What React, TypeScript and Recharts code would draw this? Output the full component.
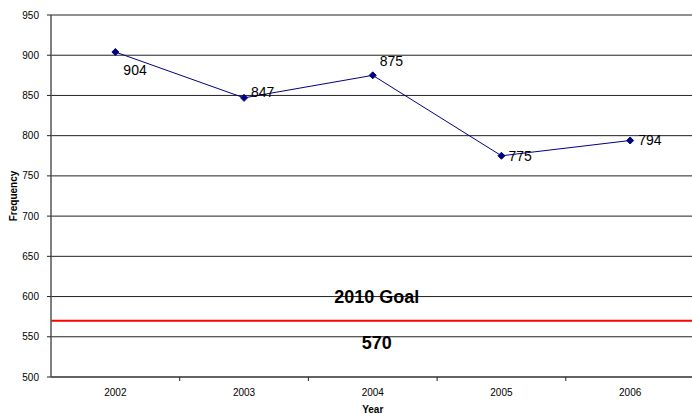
import React from 'react'
import {
  LineChart,
  Line,
  XAxis,
  YAxis,
  CartesianGrid,
  ReferenceLine,
  LabelList,
} from 'recharts'

const years = ['2002', '2003', '2004', '2005', '2006']
const frequency = [904, 847, 875, 775, 794]
const yTicks = [500, 550, 600, 650, 700, 750, 800, 850, 900, 950]
const goalValue = 570
const goalTitle = '2010 Goal'

const data = years.map((year, i) => ({ year, frequency: frequency[i] }))

// where each value label sits relative to its point
const LABEL_SHIFT = [
  [8, 18],
  [7, -6],
  [7, -14],
  [7, 0],
  [8, 0],
]

const FONT = 'Arial, "Liberation Sans", sans-serif'
const HALF_BAND = 64.35

const Diamond = (props: any) => {
  const { cx, cy } = props
  if (cx == null || cy == null) return null
  const r = 3.5
  return (
    <polygon
      points={`${cx},${cy - r} ${cx + r},${cy} ${cx},${cy + r} ${cx - r},${cy}`}
      fill="#000080"
      stroke="#000080"
    />
  )
}

const ValueLabel = (props: any) => {
  const { x, y, value, index } = props
  const [dx, dy] = LABEL_SHIFT[index] || [7, 0]
  return (
    <text
      x={x + dx}
      y={y + dy}
      fontSize={14}
      fontFamily={FONT}
      fill="#000"
      textAnchor="start"
      dominantBaseline="central"
    >
      {value}
    </text>
  )
}

// year label plus the small tick mark on the boundary to its right
const YearTick = (props: any) => {
  const { x, y, payload, index } = props
  return (
    <g>
      {index < years.length - 1 && (
        <line x1={x + HALF_BAND} x2={x + HALF_BAND} y1={y} y2={y + 4} stroke="#222" />
      )}
      <text
        x={x}
        y={y + 15}
        textAnchor="middle"
        dominantBaseline="central"
        fontSize={10}
        fontFamily={FONT}
        fill="#000"
      >
        {payload.value}
      </text>
    </g>
  )
}

const GoalLabel = (props: any) => {
  const { viewBox } = props
  if (!viewBox) return null
  const cx = viewBox.x + viewBox.width / 2 + 4
  return (
    <g fontFamily={FONT} fontSize={18} fontWeight="bold" fill="#000" textAnchor="middle">
      <text x={cx} y={viewBox.y - 24} dominantBaseline="central">
        {goalTitle}
      </text>
      <text x={cx} y={viewBox.y + 22} dominantBaseline="central">
        {goalValue}
      </text>
    </g>
  )
}

const YTitle = (props: any) => {
  const { viewBox } = props
  const x = 13
  const y = viewBox.y + viewBox.height / 2
  return (
    <text
      x={x}
      y={y}
      transform={`rotate(-90, ${x}, ${y})`}
      textAnchor="middle"
      dominantBaseline="central"
      fontFamily={FONT}
      fontSize={10}
      fontWeight="bold"
      fill="#000"
    >
      Frequency
    </text>
  )
}

const XTitle = (props: any) => {
  const { viewBox } = props
  return (
    <text
      x={viewBox.x + viewBox.width / 2}
      y={viewBox.y + 32}
      textAnchor="middle"
      dominantBaseline="central"
      fontFamily={FONT}
      fontSize={10}
      fontWeight="bold"
      fill="#000"
    >
      Year
    </text>
  )
}

export default function App() {
  return (
    <div
      style={{
        position: 'absolute',
        left: 0,
        top: 0,
        width: 692,
        height: 414,
        overflow: 'hidden',
        background: '#fff',
      }}
    >
      <LineChart
        width={700}
        height={414}
        data={data}
        margin={{ top: 15, right: 5.5, bottom: 0, left: 0 }}
      >
        <CartesianGrid vertical={false} stroke="#222" strokeWidth={1} />
        <XAxis
          dataKey="year"
          padding={{ left: HALF_BAND, right: HALF_BAND }}
          height={37}
          tickLine={false}
          tickSize={0}
          tickMargin={0}
          axisLine={{ stroke: '#555', strokeWidth: 1.5 }}
          tick={<YearTick />}
          interval={0}
          label={<XTitle />}
        />
        <YAxis
          width={51}
          domain={[500, 950]}
          ticks={yTicks}
          interval={0}
          tickSize={4}
          tickMargin={8}
          tickLine={{ stroke: '#222' }}
          axisLine={{ stroke: '#555', strokeWidth: 1.5 }}
          tick={{ fontSize: 10, fill: '#000', fontFamily: FONT }}
          label={<YTitle />}
        />
        <ReferenceLine y={goalValue} stroke="#ff0000" strokeWidth={2} label={<GoalLabel />} />
        <Line
          dataKey="frequency"
          stroke="#000080"
          strokeWidth={1}
          dot={<Diamond />}
          activeDot={false}
          isAnimationActive={false}
        >
          <LabelList dataKey="frequency" content={<ValueLabel />} />
        </Line>
      </LineChart>
    </div>
  )
}
